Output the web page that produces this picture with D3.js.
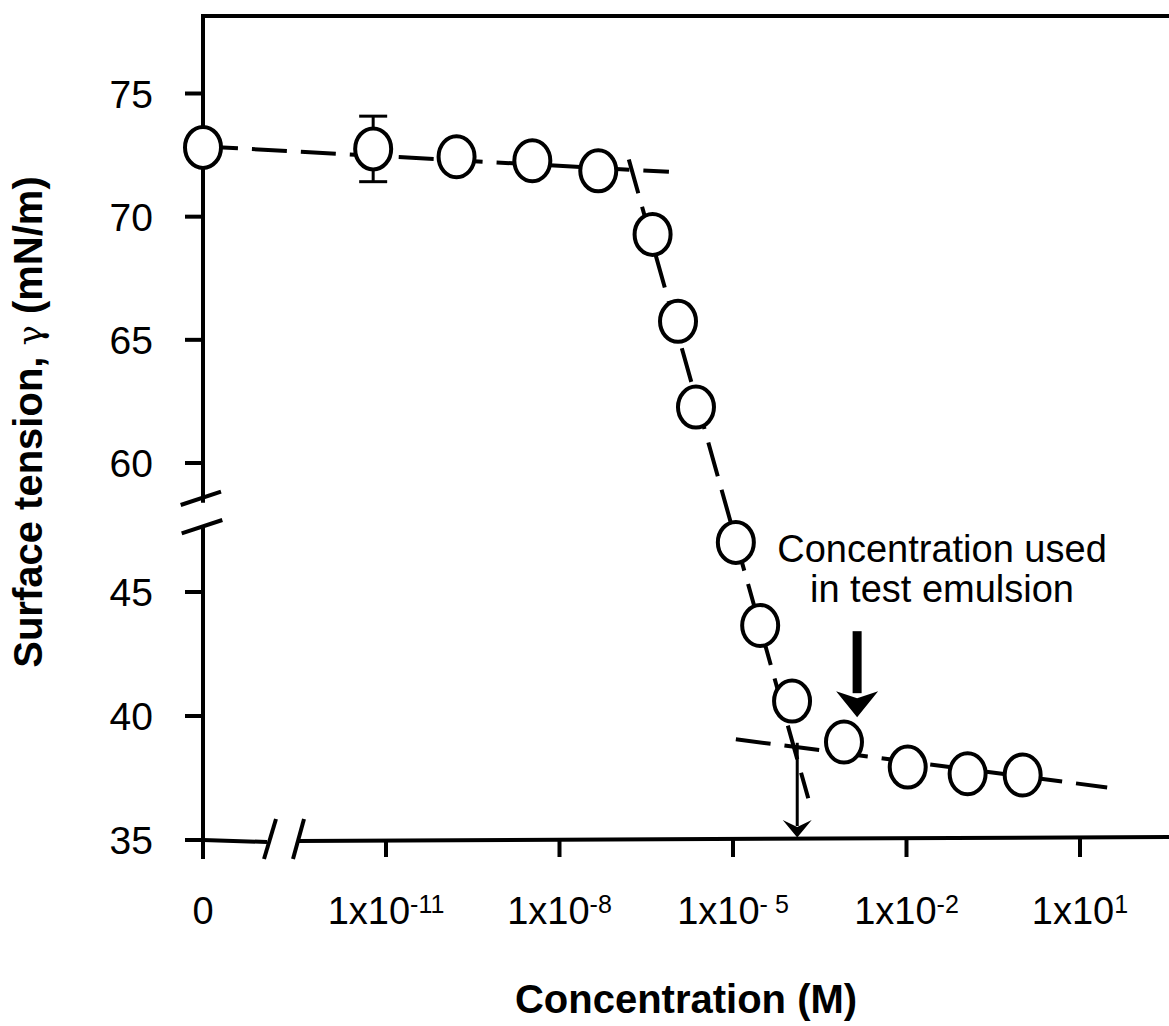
<!DOCTYPE html>
<html>
<head>
  <title>Surface tension vs concentration</title>
  <script src="https://d3js.org/d3.v7.min.js"></script>
  <style>
    body { margin: 0; background: #fff; }
    text { font-family: Arial, "Liberation Sans", sans-serif; fill: #000; }
  </style>
</head>
<body>

<div id="chart"></div>

<script>
// Data (concentration in M, 0 = pure water)
const conc = [0, 6.0e-12, 1.66e-10, 3.39e-9, 4.68e-8, 4.07e-7, 1.12e-6, 2.29e-6,
              1.12e-5, 2.95e-5, 1.05e-4, 8.3e-4, 1.05e-2, 1.14e-1, 1.02];
const gamma = [72.79, 72.73, 72.41, 72.25, 71.84, 69.26, 65.73, 62.25,
               46.98, 43.63, 40.58, 38.93, 37.92, 37.65, 37.60];
const gammaErr = [0, 1.33, 0, 0, 0, 0, 0, 0, 0, 0, 0, 0, 0, 0, 0];

// dashed fit lines (two end points each)
const fitPlateau = [{ c: 0, g: 72.83 }, { c: 7.8e-7, g: 71.8 }];
const fitSlope = [{ c: 1.58e-7, g: 72.3 }, { c: 2.0e-4, g: 36.66 }];
const fitCmc = [{ c: 1.12e-5, g: 39.04 }, { c: 29.5, g: 37.10 }];

// annotation
const cmc = 1.29e-4;
const usedConc = 1.4e-3;
const noteLines = ["Concentration used", "in test emulsion"];

// axes
const yTicksTop = [60, 65, 70, 75];
const yTicksBottom = [35, 40, 45];
const xTickValues = [1e-11, 1e-8, 1e-5, 1e-2, 1e1];
const xTickExp = ["-11", "-8", "- 5", "-2", "1"];

const W = 1169, H = 1026;
const axisX = 203, frameTop = 16;

const svg = d3.select("#chart")
  .append("svg")
  .attr("width", W)
  .attr("height", H);

const xLog = d3.scaleLog()
  .domain([1e-11, 1e1])
  .range([386, 1080]);
const x = c => (c === 0 ? axisX : xLog(c));

const yTop = d3.scaleLinear().domain([60, 75]).range([462.5, 93]);
const yBot = d3.scaleLinear().domain([35, 45]).range([839.5, 591.5]);
const y = g => (g >= 52 ? yTop(g) : yBot(g));

const black = "#000";

// frame: top line and broken left axis
svg.append("line")
  .attr("x1", axisX - 2).attr("x2", W)
  .attr("y1", frameTop).attr("y2", frameTop)
  .attr("stroke", black).attr("stroke-width", 4);

svg.append("line")
  .attr("x1", axisX).attr("x2", axisX)
  .attr("y1", frameTop - 2).attr("y2", 502.7)
  .attr("stroke", black).attr("stroke-width", 4);
svg.append("line")
  .attr("x1", axisX).attr("x2", axisX)
  .attr("y1", 526.7).attr("y2", 859)
  .attr("stroke", black).attr("stroke-width", 4);

// y break marks
[[180.7, 505, 221, 491.7], [181.7, 533.3, 222.3, 520]].forEach(d => {
  svg.append("line")
    .attr("x1", d[0]).attr("y1", d[1]).attr("x2", d[2]).attr("y2", d[3])
    .attr("stroke", black).attr("stroke-width", 4);
});

// y ticks
function yAxis(scale, ticks) {
  const g = svg.append("g")
    .attr("transform", `translate(${axisX},0)`)
    .call(d3.axisLeft(scale).tickValues(ticks).tickSize(18).tickPadding(32));
  g.select(".domain").remove();
  g.selectAll(".tick line").attr("stroke", black).attr("stroke-width", 4);
  g.selectAll(".tick text")
    .attr("font-size", 39)
    .attr("font-family", "Arial, 'Liberation Sans', sans-serif")
    .attr("fill", black)
    .attr("dy", "0.37em");
}
yAxis(yTop, yTicksTop);
yAxis(yBot, yTicksBottom);

// x axis: short piece at 0, break, then log part
svg.append("line")
  .attr("x1", axisX).attr("y1", 840).attr("x2", 267).attr("y2", 842)
  .attr("stroke", black).attr("stroke-width", 4);
svg.append("line")
  .attr("x1", 298).attr("y1", 841).attr("x2", W).attr("y2", 837)
  .attr("stroke", black).attr("stroke-width", 4);
[[264, 859, 276, 819], [293, 859, 304, 819]].forEach(d => {
  svg.append("line")
    .attr("x1", d[0]).attr("y1", d[1]).attr("x2", d[2]).attr("y2", d[3])
    .attr("stroke", black).attr("stroke-width", 4);
});

const xAxisY = v => 841 - (xLog(v) - 298) * 4 / (W - 298);

xTickValues.forEach((v, i) => {
  const px = xLog(v);
  svg.append("line")
    .attr("x1", px).attr("x2", px)
    .attr("y1", xAxisY(v)).attr("y2", 857)
    .attr("stroke", black).attr("stroke-width", 4);
  const t = svg.append("text")
    .attr("x", px).attr("y", 924)
    .attr("text-anchor", "middle")
    .attr("font-size", 38);
  t.append("tspan").text("1x10");
  t.append("tspan").attr("font-size", 25).attr("dy", -11).text(xTickExp[i]);
});

svg.append("text")
  .attr("x", axisX).attr("y", 924)
  .attr("text-anchor", "middle")
  .attr("font-size", 38)
  .text("0");

// dashed fit lines
const line = d3.line().x(d => x(d.c)).y(d => y(d.g));
[fitPlateau, fitSlope, fitCmc].forEach(seg => {
  svg.append("path")
    .datum(seg)
    .attr("d", line)
    .attr("fill", "none")
    .attr("stroke", black)
    .attr("stroke-width", 4)
    .attr("stroke-dasharray", "35,14");
});

// CMC drop arrow
const cmcX = xLog(cmc);
svg.append("line")
  .attr("x1", cmcX).attr("x2", cmcX)
  .attr("y1", y(38.9)).attr("y2", 826)
  .attr("stroke", black).attr("stroke-width", 3);
svg.append("path")
  .attr("d", `M${cmcX - 14.5},820 L${cmcX},837.5 L${cmcX + 14.5},820 L${cmcX},827 Z`)
  .attr("fill", black);

// error bar
const capW = 14;
conc.forEach((c, i) => {
  if (!gammaErr[i]) return;
  const cx = x(c);
  const y1 = y(gamma[i] + gammaErr[i]), y2 = y(gamma[i] - gammaErr[i]);
  svg.append("line").attr("x1", cx).attr("x2", cx).attr("y1", y1).attr("y2", y2)
    .attr("stroke", black).attr("stroke-width", 3);
  [y1, y2].forEach(yy => {
    svg.append("line").attr("x1", cx - capW).attr("x2", cx + capW)
      .attr("y1", yy).attr("y2", yy)
      .attr("stroke", black).attr("stroke-width", 3);
  });
});

// markers
svg.append("g")
  .selectAll("ellipse")
  .data(conc.map((c, i) => ({ c, g: gamma[i] })))
  .join("ellipse")
  .attr("cx", d => x(d.c))
  .attr("cy", d => y(d.g))
  .attr("rx", 18)
  .attr("ry", 20.5)
  .attr("fill", "#fff")
  .attr("stroke", black)
  .attr("stroke-width", 4);

// annotation
const ax = xLog(usedConc);
svg.append("rect")
  .attr("x", ax - 4.5).attr("y", yBot(43.4))
  .attr("width", 9).attr("height", yBot(40.9) - yBot(43.4))
  .attr("fill", black);
svg.append("path")
  .attr("d", `M${ax - 21},${yBot(40.9) - 2} L${ax},${yBot(39.93)} L${ax + 21},${yBot(40.9) - 2} L${ax},${yBot(40.9) + 5} Z`)
  .attr("fill", black);

noteLines.forEach((s, i) => {
  svg.append("text")
    .attr("x", 942)
    .attr("y", 562 + i * 40)
    .attr("text-anchor", "middle")
    .attr("font-size", 38)
    .text(s);
});

// axis titles
svg.append("text")
  .attr("x", 686).attr("y", 1013)
  .attr("text-anchor", "middle")
  .attr("font-size", 40)
  .attr("font-weight", "bold")
  .text("Concentration (M)");

const yt = svg.append("text")
  .attr("transform", "translate(42,422) rotate(-90)")
  .attr("text-anchor", "middle")
  .attr("font-size", 40)
  .attr("font-weight", "bold");
yt.append("tspan").text("Surface tension, ");
yt.append("tspan").attr("font-weight", "normal").attr("font-family", "'DejaVu Serif', serif").attr("font-size", 34).text("γ");
yt.append("tspan").text(" (mN/m)");
</script>

</body>
</html>
